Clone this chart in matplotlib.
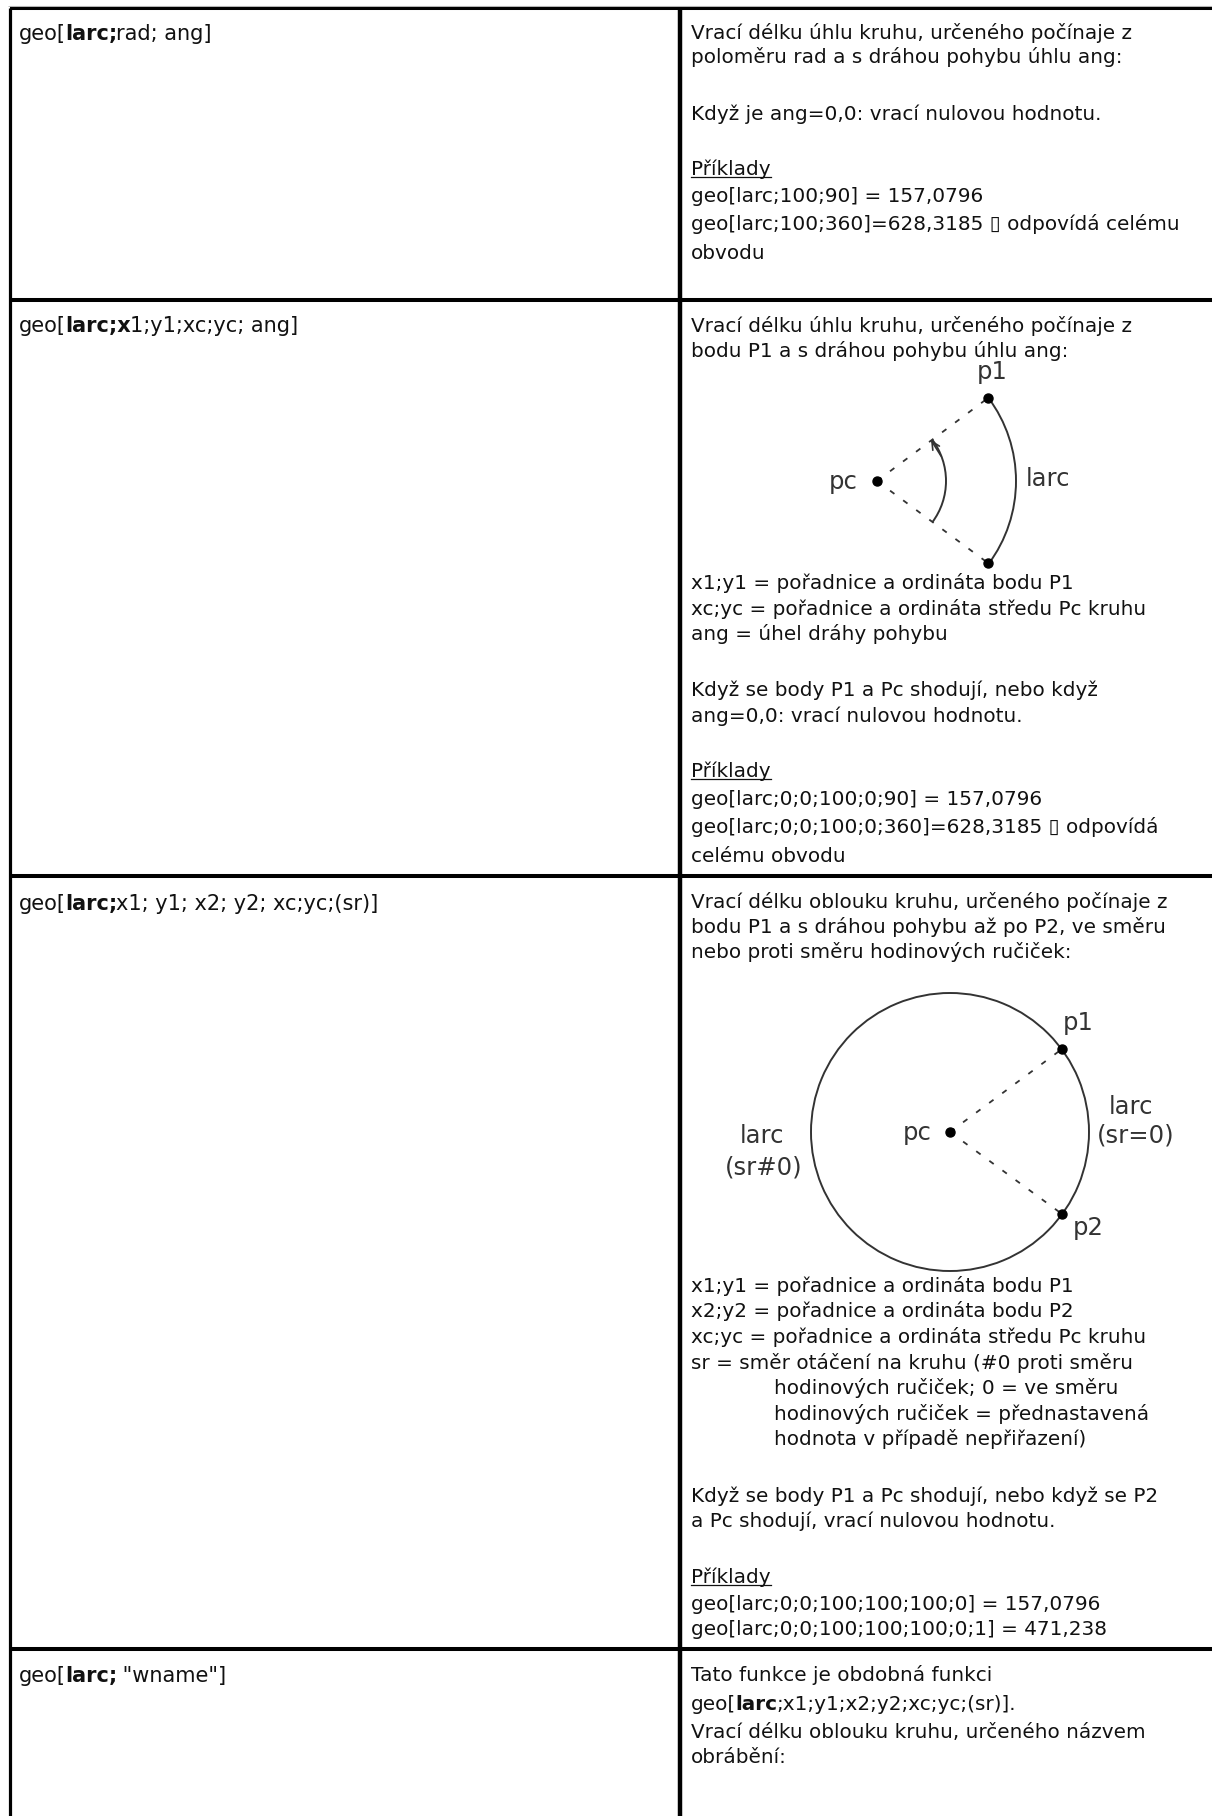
import matplotlib
matplotlib.use("Agg")
import matplotlib.pyplot as plt
from matplotlib.patches import Arc

plt.rcParams['font.family'] = ['DejaVu Sans']

# left column, as (text, bold) runs
left_rows = [
    [("geo[", False), ("larc;", True), ("rad; ang]", False)],
    [("geo[", False), ("larc;x", True), ("1;y1;xc;yc; ang]", False)],
    [("geo[", False), ("larc;", True), ("x1; y1; x2; y2; xc;yc;(sr)]", False)],
    [("geo[", False), ("larc;", True), (" \"wname\"]", False)],
]
left_baselines = [40, 332, 910, 1682]

# right column lines
right_lines = [
    "Vrací délku úhlu kruhu, určeného počínaje z",
    "poloměru rad a s dráhou pohybu úhlu ang:",
    "Když je ang=0,0: vrací nulovou hodnotu.",
    "Příklady",
    "geo[larc;100;90] = 157,0796",
    "geo[larc;100;360]=628,3185 \u25af odpovídá celému",
    "obvodu",
    "Vrací délku úhlu kruhu, určeného počínaje z",
    "bodu P1 a s dráhou pohybu úhlu ang:",
    "x1;y1 = pořadnice a ordináta bodu P1",
    "xc;yc = pořadnice a ordináta středu Pc kruhu",
    "ang = úhel dráhy pohybu",
    "Když se body P1 a Pc shodují, nebo když",
    "ang=0,0: vrací nulovou hodnotu.",
    "Příklady",
    "geo[larc;0;0;100;0;90] = 157,0796",
    "geo[larc;0;0;100;0;360]=628,3185 \u25af odpovídá",
    "celému obvodu",
    "Vrací délku oblouku kruhu, určeného počínaje z",
    "bodu P1 a s dráhou pohybu až po P2, ve směru",
    "nebo proti směru hodinových ručiček:",
    "x1;y1 = pořadnice a ordináta bodu P1",
    "x2;y2 = pořadnice a ordináta bodu P2",
    "xc;yc = pořadnice a ordináta středu Pc kruhu",
    "sr = směr otáčení na kruhu (#0 proti směru",
    "Když se body P1 a Pc shodují, nebo když se P2",
    "a Pc shodují, vrací nulovou hodnotu.",
    "Příklady",
    "geo[larc;0;0;100;100;100;0] = 157,0796",
    "geo[larc;0;0;100;100;100;0;1] = 471,238",
    "Tato funkce je obdobná funkci",
    "Vrací délku oblouku kruhu, určeného názvem",
    "obrábění:",
]
right_baselines = [
    39, 63, 120, 175, 202, 230, 259,
    332, 357, 589, 615, 640, 696, 722, 777, 805, 833, 862,
    908, 933, 958, 1292, 1317, 1343, 1369, 1502, 1527, 1583, 1610, 1635,
    1681, 1738, 1763,
]

indented_lines = [
    "hodinových ručiček; 0 = ve směru",
    "hodinových ručiček = přednastavená",
    "hodnota v případě nepřiřazení)",
]
indented_baselines = [1394, 1420, 1445]

mixed_line = [("geo[", False), ("larc", True), (";x1;y1;x2;y2;xc;yc;(sr)].", False)]
mixed_baseline = 1710

# table rules
row_rules = [8, 300, 876, 1649]
col_rules = [10, 680]

# first figure: sector
pc_a = (877, 481)
p1_a = (988, 398)
p2_a = (988, 563)
big_r_a = 139
small_r_a = 69
span_a = 36.8
labels_a = [("pc", 843, 482), ("p1", 992, 372), ("larc", 1048, 479)]

# second figure: circle
pc_b = (950, 1132)
p1_b = (1062, 1049)
p2_b = (1062, 1214)
r_b = 139
labels_b = [
    ("p1", 1078, 1023), ("p2", 1088, 1228), ("pc", 917, 1133),
    ("larc", 1131, 1107), ("(sr=0)", 1136, 1135),
    ("larc", 762, 1136), ("(sr#0)", 764, 1167),
]

FS = 14.4
LEFT_FS = 15
LABEL_FS = 17.5
TXT = "#111111"
DIA = "#333333"
LEFT_X = 19
RIGHT_X = 691
INDENT_X = 774

fig = plt.figure(figsize=(12.12, 18.16), dpi=100)
ax = fig.add_axes([0, 0, 1, 1])
ax.set_xlim(0, 1212)
ax.set_ylim(1816, 0)
ax.axis("off")
renderer = fig.canvas.get_renderer()


def draw_runs(x, y, runs, size):
    for s, bold in runs:
        weight = "bold" if bold else "normal"
        ax.text(x, y, s, fontsize=size, color=TXT, va="baseline", ha="left", fontweight=weight)
        # spaces count, so measure with non-breaking ones
        guard = ax.text(0, 0, s.replace(" ", "\u00a0"), fontsize=size, fontweight=weight)
        x += guard.get_window_extent(renderer).width - 1
        guard.remove()


def draw_spokes(pc, p1, p2):
    for p in (p1, p2):
        ax.plot([pc[0], p[0]], [pc[1], p[1]], color=DIA, lw=1.3, ls=(0, (3, 6)))
    ax.plot([pc[0], p1[0], p2[0]], [pc[1], p1[1], p2[1]],
            ls="none", marker="o", ms=6.5, color="black")


# rules
ax.hlines(row_rules, col_rules[0], 1212, color="black", lw=2.9)
ax.hlines(row_rules[0] - 2, col_rules[0] - 2, 1212, color="#bbbbbb", lw=0.7)
ax.vlines(col_rules[0], row_rules[0], 1816, color="black", lw=2.3)
ax.vlines(col_rules[1], row_rules[0], 1816, color="black", lw=3.2)

for runs, y in zip(left_rows, left_baselines):
    draw_runs(LEFT_X, y, runs, LEFT_FS)

for s, y in zip(right_lines, right_baselines):
    t = ax.text(RIGHT_X, y, s, fontsize=FS, color=TXT, va="baseline", ha="left")
    if s == "Příklady":
        w = t.get_window_extent(renderer).width
        ax.plot([RIGHT_X, RIGHT_X + w], [y + 2, y + 2], color=TXT, lw=0.9)

for s, y in zip(indented_lines, indented_baselines):
    ax.text(INDENT_X, y, s, fontsize=FS, color=TXT, va="baseline", ha="left")

draw_runs(RIGHT_X, mixed_baseline, mixed_line, FS)

# sector figure
ax.add_patch(Arc(pc_a, big_r_a * 2, big_r_a * 2, theta1=-span_a, theta2=span_a, color=DIA, lw=1.4))
ax.add_patch(Arc(pc_a, small_r_a * 2, small_r_a * 2, theta1=-span_a, theta2=span_a, color=DIA, lw=1.4))
draw_spokes(pc_a, p1_a, p2_a)
ax.annotate("", xy=(931, 440), xytext=(941, 456),
            arrowprops=dict(arrowstyle="->", color=DIA, lw=1.2, mutation_scale=14,
                            shrinkA=0, shrinkB=0))
for s, x, y in labels_a:
    ax.text(x, y, s, fontsize=LABEL_FS, color=DIA, ha="center", va="center")

# circle figure
ax.add_patch(Arc(pc_b, r_b * 2, r_b * 2, color=DIA, lw=1.4))
draw_spokes(pc_b, p1_b, p2_b)
for s, x, y in labels_b:
    ax.text(x, y, s, fontsize=LABEL_FS, color=DIA, ha="center", va="center")

fig.savefig("out.png", dpi=100, facecolor="white")
